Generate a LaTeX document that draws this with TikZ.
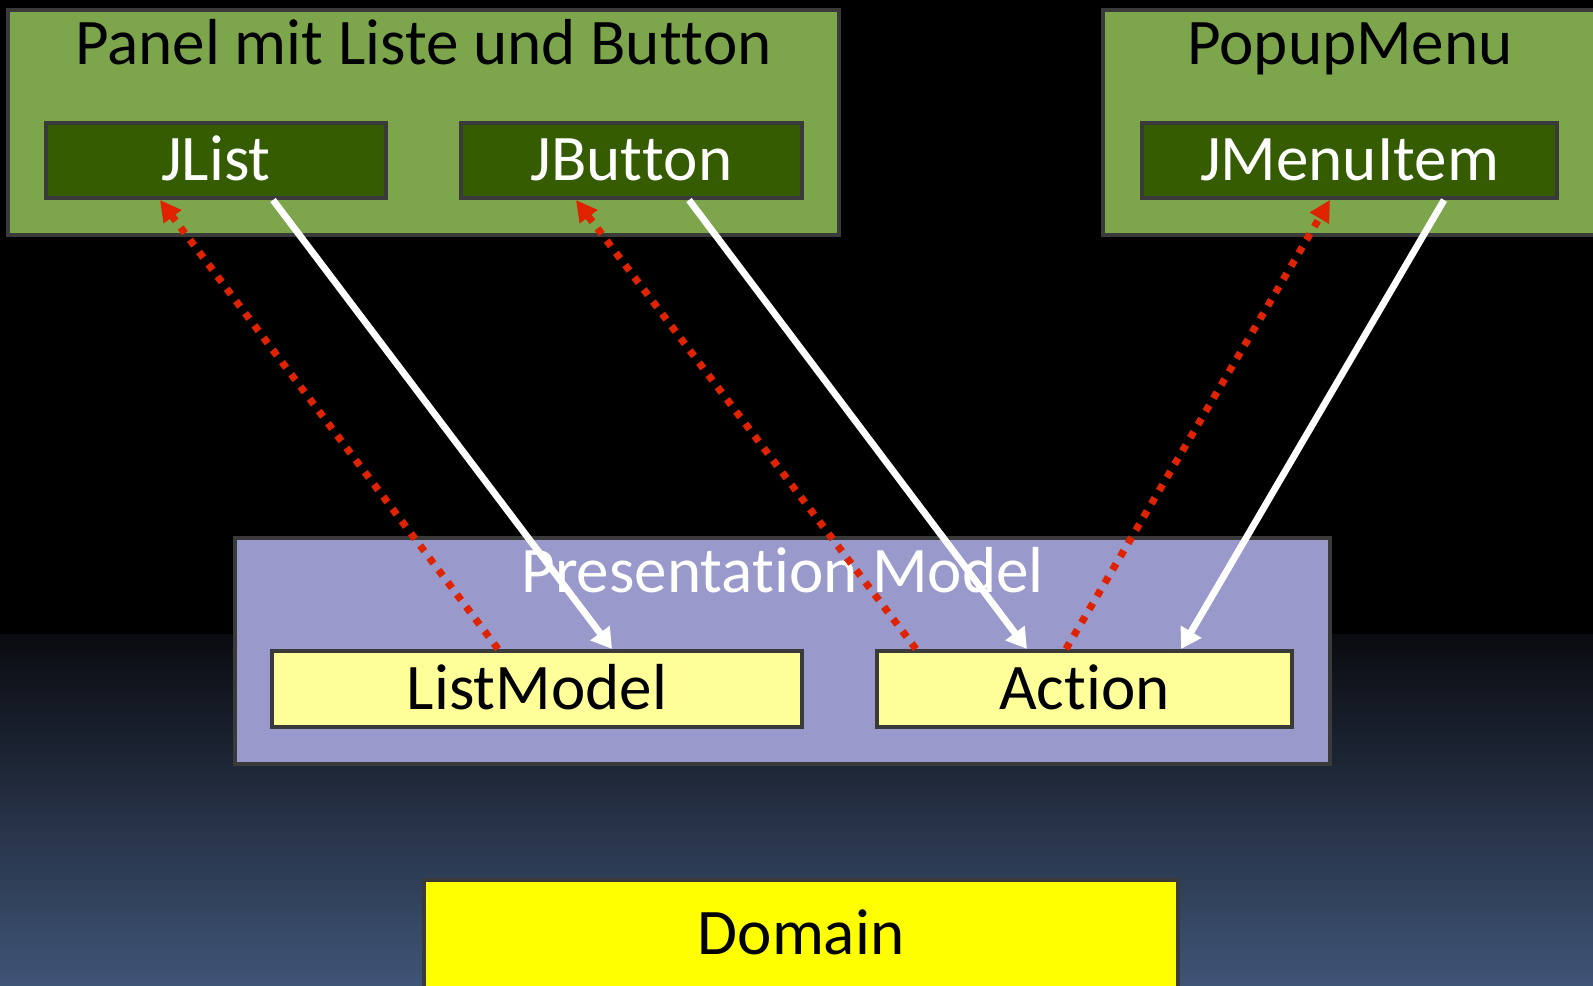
\documentclass[tikz,border=0pt]{standalone}
\usepackage{fontspec}
\setmainfont[Ligatures={NoCommon,NoContextual}, RawFeature={-liga;-clig;-rlig;-calt;-dlig;-hlig}]{Carlito}
\usetikzlibrary{arrows.meta,positioning}
\usepackage{xcolor}
\definecolor{edgegray}{HTML}{3A3A3A}
\definecolor{panelgreen}{HTML}{7DA54B}
\definecolor{itemgreen}{HTML}{355C00}
\definecolor{pmlilac}{HTML}{9999CC}
\definecolor{modelyellow}{HTML}{FFFF99}
\definecolor{domainyellow}{HTML}{FFFF00}
\definecolor{linkred}{HTML}{DF2200}
\definecolor{bgdark}{HTML}{0A0B10}
\definecolor{bgblue}{HTML}{3F5577}
\tikzset{
  box/.style={draw=edgegray, line width=0.04cm, minimum height=0.75cm, text height=0.41cm, text depth=0pt, inner sep=0pt, font=\fontsize{18.5}{22}\selectfont},
  groupbox/.style={box, fill=panelgreen, minimum height=2.25cm},
  viewbox/.style={box, fill=itemgreen, text=white},
  modelbox/.style={box, fill=modelyellow, minimum height=0.76cm},
  pmbox/.style={box, fill=pmlilac, minimum height=2.26cm},
  domainbox/.style={box, fill=domainyellow},
  grouptitle/.style={anchor=base, inner sep=0pt, font=\fontsize{18.5}{22}\selectfont},
  update/.style={-{Triangle[length=2mm,width=2.3mm]}, line width=0.068cm, draw=white},
  notify/.style={-{Triangle[length=2.1mm,width=2.1mm]}, line width=0.072cm, draw=linkred, dash pattern=on 0.07cm off 0.083cm}
}

\begin{document}
\begin{tikzpicture}[x=0.01cm, y=-0.01cm]
  \useasboundingbox (0,0) rectangle (1593,986);
  \clip (0,0) rectangle (1593,986);
  % backdrop: black, then fading to blue towards the bottom
  \fill[black] (0,0) rectangle (1593,636);
  \shade[top color=bgdark, bottom color=bgblue] (0,635) rectangle (1593,986);
  \node[groupbox, minimum width=8.3cm] (panel) at (423.5,122.5) {};
  \node[grouptitle] (paneltitle) at ([yshift=-0.57cm]panel.north) {Panel mit Liste und But\kern0pt ton};
  \node[viewbox, minimum width=3.4cm] (jlist) at (216,160.5) {JList};
  \node[viewbox, minimum width=3.41cm] (jbutton) at (631.5,160.5) {JBut\kern0pt ton};
  \node[groupbox, minimum width=4.94cm] (popup) at (1350,122.5) {};
  \node[grouptitle] (popuptitle) at ([yshift=-0.57cm]popup.north) {PopupMenu};
  \node[viewbox, minimum width=4.15cm] (jmenuitem) at (1349.5,160.5) {JMenuItem};
  \node[pmbox, minimum width=10.95cm] (pm) at (782.5,651) {};
  \node[grouptitle, text=white] (pmtitle) at ([yshift=-0.57cm]pm.north) {Presentat\kern0pt ion Model};
  \node[modelbox, minimum width=5.3cm] (listmodel) at (537,689) {ListModel};
  \node[modelbox, minimum width=4.15cm] (action) at (1084.5,689) {Act\kern0pt ion};
  \node[domainbox, minimum width=7.54cm, minimum height=1.08cm] (domain) at (801,934) {Domain};
  % white: view -> model, red dotted: model -> view
  \draw[update] ([xshift=0.57cm]jlist.south) -- ([xshift=0.75cm]listmodel.north);
  \draw[notify] ([xshift=-0.39cm]listmodel.north) -- ([xshift=-0.56cm]jlist.south);
  \draw[update] ([xshift=0.575cm]jbutton.south) -- ([xshift=-0.575cm]action.north);
  \draw[notify] ([xshift=-1.685cm]action.north) -- ([xshift=-0.555cm]jbutton.south);
  \draw[notify] ([xshift=-0.185cm]action.north) -- ([xshift=-0.195cm]jmenuitem.south);
  \draw[update] ([xshift=0.945cm]jmenuitem.south) -- ([xshift=0.965cm]action.north);
\end{tikzpicture}
\end{document}
